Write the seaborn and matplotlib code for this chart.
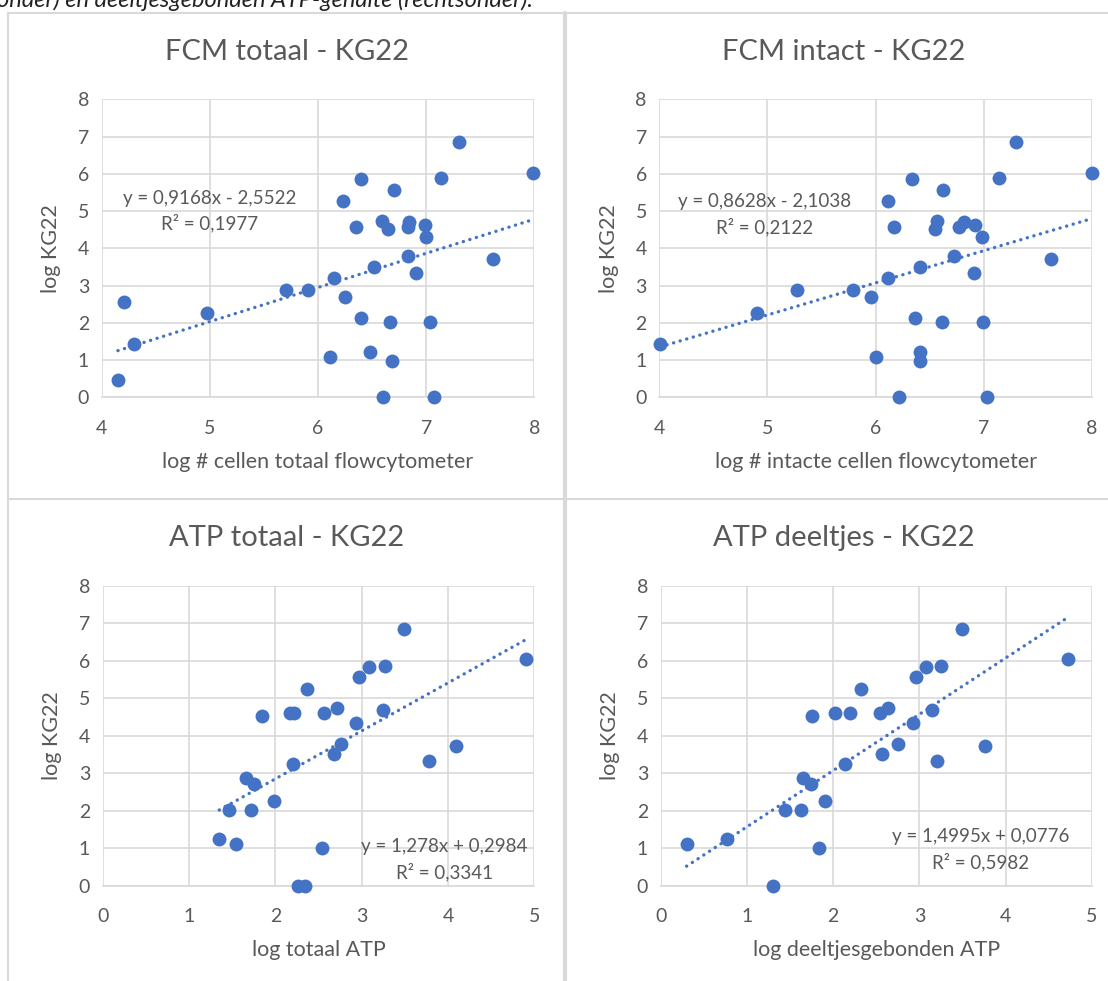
import numpy as np
import pandas as pd
import matplotlib
matplotlib.use("Agg")
import matplotlib.pyplot as plt
import seaborn as sns
from matplotlib.lines import Line2D

sns.set_theme(style="white")
plt.rcParams['font.family'] = ['Lato', 'DejaVu Sans']

# ---------------- data ----------------
fcm_tot_x = [4.15, 4.21, 4.30, 4.97, 5.70, 5.91, 6.15, 6.23, 6.25, 6.11, 6.35, 6.40, 6.40,
             6.48, 6.52, 6.59, 6.60, 6.65, 6.67, 6.68, 6.70, 6.83, 6.83, 6.84, 6.91, 6.99,
             7.00, 7.04, 7.07, 7.14, 7.30, 7.62, 7.99]
fcm_tot_y = [0.47, 2.55, 1.42, 2.26, 2.88, 2.88, 3.21, 5.26, 2.70, 1.09, 4.58, 5.85, 2.14,
             1.21, 3.51, 4.73, 0.00, 4.52, 2.01, 0.98, 5.56, 3.78, 4.58, 4.70, 3.33, 4.63,
             4.31, 2.01, 0.00, 5.88, 6.85, 3.70, 6.01]

fcm_int_x = [4.01, 4.90, 5.27, 5.79, 5.96, 6.00, 6.11, 6.11, 6.17, 6.22, 6.34, 6.36, 6.41,
             6.41, 6.41, 6.55, 6.57, 6.61, 6.62, 6.72, 6.77, 6.82, 6.91, 6.92, 6.98, 6.99,
             7.03, 7.14, 7.30, 7.62, 8.00]
fcm_int_y = [1.42, 2.26, 2.88, 2.88, 2.70, 1.09, 5.26, 3.21, 4.58, 0.00, 5.85, 2.14, 3.51,
             1.21, 0.98, 4.52, 4.73, 2.01, 5.56, 3.78, 4.58, 4.70, 3.33, 4.63, 4.31, 2.01,
             0.00, 5.88, 6.85, 3.70, 6.01]

atp_tot_x = [1.35, 1.46, 1.54, 1.66, 1.75, 1.72, 1.85, 1.98, 2.17, 2.22, 2.20, 2.26, 2.34,
             2.37, 2.54, 2.56, 2.68, 2.71, 2.76, 2.93, 2.97, 3.09, 3.25, 3.27, 3.49, 3.78,
             4.09, 4.90]
atp_tot_y = [1.24, 2.02, 1.11, 2.87, 2.71, 2.02, 4.52, 2.27, 4.60, 4.60, 3.25, 0.00, 0.00,
             5.26, 1.00, 4.60, 3.51, 4.75, 3.78, 4.33, 5.57, 5.84, 4.69, 5.87, 6.85, 3.33,
             3.72, 6.04]

atp_dlt_x = [0.30, 0.77, 1.30, 1.44, 1.63, 1.65, 1.74, 1.75, 1.84, 1.90, 2.02, 2.14, 2.20,
             2.32, 2.54, 2.57, 2.64, 2.75, 2.92, 2.96, 3.07, 3.15, 3.20, 3.25, 3.49, 3.76,
             4.72]
atp_dlt_y = [1.12, 1.24, 0.00, 2.02, 2.02, 2.87, 2.71, 4.52, 1.00, 2.27, 4.60, 3.25, 4.60,
             5.26, 4.60, 3.51, 4.75, 3.78, 4.33, 5.57, 5.84, 4.69, 3.33, 5.87, 6.85, 3.72,
             6.04]

titles = ["FCM totaal - KG22", "FCM intact - KG22", "ATP totaal - KG22", "ATP deeltjes - KG22"]
xlabels = ["log # cellen totaal flowcytometer", "log # intacte cellen flowcytometer",
           "log totaal ATP", "log deeltjesgebonden ATP"]
ylabel = "log KG22"
slopes = [0.9168, 0.8628, 1.278, 1.4995]
intercepts = [-2.5522, -2.1038, 0.2984, 0.0776]
eq_texts = ["y = 0,9168x - 2,5522", "y = 0,8628x - 2,1038", "y = 1,278x + 0,2984", "y = 1,4995x + 0,0776"]
r2_texts = ["R² = 0,1977", "R² = 0,2122", "R² = 0,3341", "R² = 0,5982"]
xticks_top = [4, 5, 6, 7, 8]
xticks_bot = [0, 1, 2, 3, 4, 5]
yticks = [0, 1, 2, 3, 4, 5, 6, 7, 8]
caption = "onder) en deeltjesgebonden ATP-gehalte (rechtsonder)."

# ---------------- layout ----------------
W, H = 1108, 981
fig = plt.figure(figsize=(W / 100, H / 100), dpi=100)
fig.patch.set_facecolor("white")

def px_axes(x0, y0, x1, y1):
    return fig.add_axes([x0 / W, 1 - y1 / H, (x1 - x0) / W, (y1 - y0) / H])

axes = [
    px_axes(101.7, 99.3, 534.3, 397.3),
    px_axes(659.3, 99.3, 1092.0, 397.3),
    px_axes(102.7, 585.7, 534.3, 886.0),
    px_axes(660.7, 585.7, 1092.0, 886.0),
]
# centres (px) of the chart boxes, used for the titles; and title y (px)
title_cx = [287, 844, 287, 844]
title_cy = [52, 52, 538, 538]

BLUE = "#4472C4"
GRAY_T = "#595959"
GRID = "#d9d9d9"

datasets = [(fcm_tot_x, fcm_tot_y), (fcm_int_x, fcm_int_y),
            (atp_tot_x, atp_tot_y), (atp_dlt_x, atp_dlt_y)]
xlims = [(4, 8), (4, 8), (0, 5), (0, 5)]
trend_ranges = [(min(fcm_tot_x), max(fcm_tot_x)), (3.95, 8.0),
                (min(atp_tot_x), max(atp_tot_x)), (min(atp_dlt_x), max(atp_dlt_x))]
eq_pos = [(5.0, 5.35, 4.68), (4.97, 5.25, 4.58), (3.96, 1.05, 0.38), (3.71, 1.31, 0.65)]

for i, ax in enumerate(axes):
    xs, ys = datasets[i]
    df = pd.DataFrame({"x": xs, "y": ys})
    ax.set_facecolor("white")
    ax.set_xlim(*xlims[i])
    ax.set_ylim(0, 8)
    ax.set_xticks(xticks_top if i < 2 else xticks_bot)
    ax.set_yticks(yticks)
    ax.grid(True, color=GRID, linewidth=1.2)
    ax.set_axisbelow(True)
    for s in ax.spines.values():
        s.set_visible(False)
    ax.spines["bottom"].set_visible(True)
    ax.spines["bottom"].set_color(GRID)
    ax.spines["bottom"].set_linewidth(1.2)

    # trendline from the equation
    lo, hi = trend_ranges[i]
    tx = np.array([lo, hi])
    tdf = pd.DataFrame({"x": tx, "y": slopes[i] * tx + intercepts[i]})
    sns.lineplot(data=tdf, x="x", y="y", ax=ax, color=BLUE, linewidth=2.4,
                 linestyle=(0, (0.05, 2.0)), dash_capstyle="round", zorder=3)

    sns.scatterplot(data=df, x="x", y="y", ax=ax, color=BLUE, s=100,
                    edgecolor=BLUE, linewidth=0, zorder=4, clip_on=False)

    ax.tick_params(axis="x", length=0, labelsize=14, labelcolor=GRAY_T, pad=16)
    ax.tick_params(axis="y", length=0, labelsize=14, labelcolor=GRAY_T, pad=9)
    ax.set_xlabel(xlabels[i], fontsize=15.5, color=GRAY_T, labelpad=11)
    ax.set_ylabel(ylabel, fontsize=15.5, color=GRAY_T, labelpad=12)

    fig.text(title_cx[i] / W, 1 - title_cy[i] / H, titles[i], fontsize=21, color=GRAY_T,
             ha="center", va="center")

    ex, ey, ry = eq_pos[i]
    ax.text(ex, ey, eq_texts[i], fontsize=13.5, color=GRAY_T, ha="center", va="center")
    ax.text(ex, ry, r2_texts[i], fontsize=13.5, color=GRAY_T, ha="center", va="center")

# panel borders
bc = "#d9d9d9"
def hline(y, x0, x1, lw=1.5):
    fig.add_artist(Line2D([x0 / W, x1 / W], [1 - y / H, 1 - y / H], color=bc, lw=lw))
def vline(x, y0, y1, lw=1.5):
    fig.add_artist(Line2D([x / W, x / W], [1 - y0 / H, 1 - y1 / H], color=bc, lw=lw))

hline(13, 8, W)
hline(498.5, 8, W)
vline(8, 13, H)
vline(565, 13, H, lw=3)

# caption (cut off at the top, as in the source document)
fig.text(-3 / W, 1 - 7 / H, caption, fontsize=17, style="italic", color="#222222",
         ha="left", va="baseline")

fig.savefig("out.png", dpi=100, facecolor="white")
